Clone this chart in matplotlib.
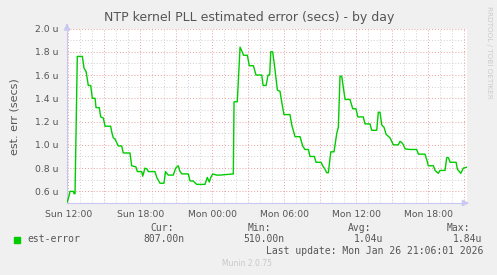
import matplotlib.pyplot as plt
from matplotlib.patches import Rectangle

# hours since Sun 12:00 and estimated error in microseconds
hours = [-0.08, 0.06, 0.14, 0.42, 0.48, 0.56, 0.75, 1.17, 1.31, 1.48, 1.67, 1.87,
         2.0, 2.23, 2.31, 2.58, 2.7, 2.92, 3.06, 3.53, 3.62, 3.75, 3.89, 4.17,
         4.45, 4.58, 5.14, 5.28, 5.64, 5.75, 6.12, 6.2, 6.39, 6.58, 6.67, 7.22,
         7.37, 7.64, 7.97, 8.1, 8.33, 8.75, 8.95, 9.17, 9.31, 9.47, 10.0, 10.14,
         10.39, 10.7, 11.39, 11.58, 11.75, 11.87, 12.03, 12.37, 12.64, 13.75,
         13.81, 14.08, 14.31, 14.53, 14.6, 14.92, 15.08, 15.42, 15.64, 16.12,
         16.23, 16.48, 16.64, 16.78, 16.87, 17.03, 17.23, 17.42, 17.64, 17.78,
         17.97, 18.47, 18.62, 18.89, 19.31, 19.53, 19.72, 20.0, 20.14, 20.5,
         20.64, 21.06, 21.2, 21.39, 21.53, 21.67, 21.87, 22.14, 22.37, 22.5,
         22.64, 22.78, 23.06, 23.47, 23.7, 23.97, 24.12, 24.58, 24.72, 25.14,
         25.28, 25.7, 25.83, 25.97, 26.12, 26.31, 26.48, 26.81, 27.08, 27.5,
         27.64, 27.78, 27.92, 28.06, 28.47, 29.03, 29.17, 29.72, 29.87, 30.0,
         30.42, 30.56, 30.83, 30.97, 31.39, 31.53, 31.67, 31.81, 32.31, 32.42,
         32.7, 32.92, 33.2]
est_error = [0.51, 0.56, 0.60, 0.60, 0.58, 0.58, 1.76, 1.76, 1.66, 1.63, 1.51, 1.51,
             1.40, 1.40, 1.32, 1.32, 1.24, 1.23, 1.16, 1.16, 1.11, 1.06, 1.05, 0.99,
             0.99, 0.93, 0.93, 0.82, 0.81, 0.77, 0.77, 0.73, 0.80, 0.79, 0.77, 0.77,
             0.72, 0.67, 0.67, 0.77, 0.74, 0.74, 0.80, 0.82, 0.77, 0.75, 0.75, 0.69,
             0.69, 0.66, 0.66, 0.72, 0.68, 0.72, 0.75, 0.74, 0.74, 0.75,
             1.37, 1.37, 1.84, 1.79, 1.77, 1.77, 1.68, 1.68, 1.60, 1.60,
             1.51, 1.51, 1.60, 1.60, 1.80, 1.80, 1.64, 1.47, 1.46, 1.37,
             1.26, 1.26, 1.17, 1.07, 1.07, 0.99, 0.96, 0.96, 0.90, 0.90,
             0.85, 0.85, 0.82, 0.79, 0.76, 0.76, 0.94, 0.94, 1.10, 1.15,
             1.59, 1.59, 1.39, 1.39, 1.31, 1.31, 1.24, 1.24, 1.18, 1.18,
             1.125, 1.125, 1.28, 1.28, 1.17, 1.15, 1.09, 1.06, 1.00, 1.00,
             1.03, 1.02, 1.00, 0.965, 0.96, 0.96, 0.92, 0.92, 0.87, 0.82,
             0.82, 0.78, 0.755, 0.78, 0.78, 0.89, 0.89, 0.85, 0.85, 0.79,
             0.755, 0.80, 0.807]

tick_hours = [0, 6, 12, 18, 24, 30]
tick_labels = ['Sun 12:00', 'Sun 18:00', 'Mon 00:00', 'Mon 06:00', 'Mon 12:00', 'Mon 18:00']
y_ticks = [0.6, 0.8, 1.0, 1.2, 1.4, 1.6, 1.8, 2.0]
y_labels = ['0.6 u', '0.8 u', '1.0 u', '1.2 u', '1.4 u', '1.6 u', '1.8 u', '2.0 u']

W, H = 497, 275
fig = plt.figure(figsize=(W / 100, H / 100), dpi=100, facecolor='#f0f0f0')
ax = fig.add_axes([67 / W, 1 - 203 / H, 400 / W, 174.5 / H], facecolor='white')

grey = '#555555'
# minor grid (hourly / 0.1u)
for h in range(0, 34):
    if h % 3:
        ax.axvline(h, color='#d0d0d0', lw=0.7, ls=(0, (1, 2)), zorder=1)
for v in [0.7, 0.9, 1.1, 1.3, 1.5, 1.7, 1.9]:
    ax.axhline(v, color='#d0d0d0', lw=0.7, ls=(0, (1, 2)), zorder=1)
# major grid
for h in range(0, 34, 3):
    ax.axvline(h, color='#e8a0a0', lw=0.7, ls=(0, (1, 2)), zorder=1)
for v in y_ticks:
    ax.axhline(v, color='#e8a0a0', lw=0.7, ls=(0, (1, 2)), zorder=1)

ax.plot(hours, est_error, color='#00cc00', lw=1.0, zorder=3)

ax.set_xlim(-0.108, 33.22)
ax.set_ylim(0.5, 2.0)
ax.set_xticks(tick_hours)
ax.set_xticklabels(tick_labels)
ax.set_yticks(y_ticks)
ax.set_yticklabels(y_labels)
ax.tick_params(axis='both', length=0, labelsize=6.7, labelcolor=grey)
ax.tick_params(axis='x', pad=5)
ax.tick_params(axis='y', pad=6)
for s in ['top', 'right']:
    ax.spines[s].set_visible(False)
for s in ['left', 'bottom']:
    ax.spines[s].set_color('#c8c8f0')
    ax.spines[s].set_linewidth(0.8)
# axis arrows
ax.annotate('', xy=(1.012, 0), xytext=(0.99, 0), xycoords='axes fraction',
            arrowprops=dict(arrowstyle='-|>', color='#c8c8f0', lw=0.8), annotation_clip=False)
ax.annotate('', xy=(0, 1.03), xytext=(0, 1.0), xycoords='axes fraction',
            arrowprops=dict(arrowstyle='-|>', color='#c8c8f0', lw=0.8), annotation_clip=False)

fig.text(249 / W, 1 - 18 / H, 'NTP kernel PLL estimated error (secs) - by day',
         ha='center', va='center', fontsize=9, color=grey)
fig.text(15 / W, 1 - 117 / H, 'est. err (secs)', rotation=90, ha='center',
         va='center', fontsize=8, color=grey)
fig.text(489 / W, 1 - 6 / H, 'RRDTOOL / TOBI OETIKER', rotation=270, ha='center',
         va='top', fontsize=5.2, color='#cccccc')

mono = 'DejaVu Sans Mono'
fig.patches.append(Rectangle((14 / W, 1 - 243 / H), 6 / W, 6 / H,
                             transform=fig.transFigure, color='#00cc00'))
fig.text(27 / W, 1 - 239 / H, 'est-error', family=mono, fontsize=7, color=grey, va='center')
headers = [('Cur:', 150), ('Min:', 248), ('Avg:', 348), ('Max:', 447)]
values = [('807.00n', 143), ('510.00n', 243), ('1.04u', 354), ('1.84u', 453)]
for t, x in headers:
    fig.text(x / W, 1 - 228 / H, t, family=mono, fontsize=7, color=grey, va='center')
for t, x in values:
    fig.text(x / W, 1 - 239 / H, t, family=mono, fontsize=7, color=grey, va='center')
fig.text(483 / W, 1 - 251 / H, 'Last update: Mon Jan 26 21:06:01 2026', family=mono,
         fontsize=7, color=grey, va='center', ha='right')
fig.text(247 / W, 1 - 264 / H, 'Munin 2.0.75', fontsize=5.5, color='#c8c8c8',
         va='center', ha='center')

fig.savefig('out.png', dpi=100, facecolor=fig.get_facecolor())
